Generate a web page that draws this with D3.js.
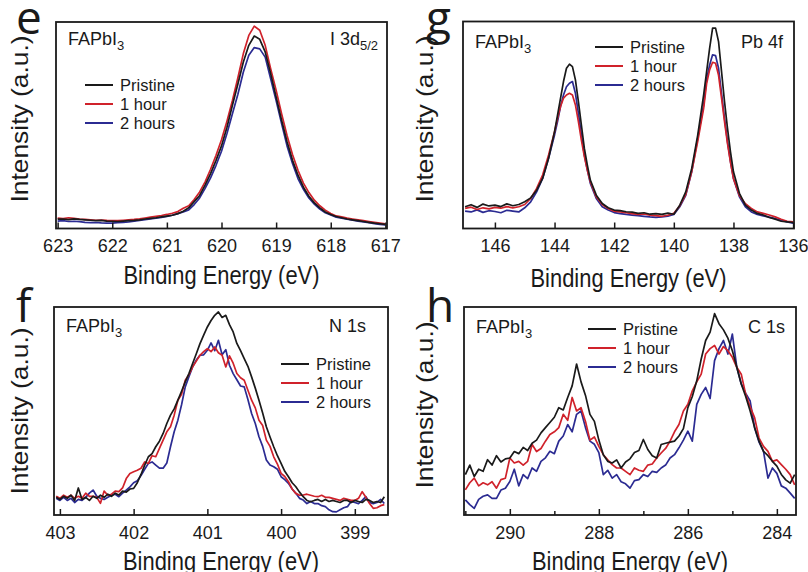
<!DOCTYPE html>
<html>
<head>
<meta charset="utf-8">
<script src="https://cdn.jsdelivr.net/npm/d3@7"></script>
<style>
  body { margin: 0; background: #fff; }
  text { font-family: "Liberation Sans", Arial, sans-serif; fill: #1a1a1a; }
</style>
</head>
<body>
<script>
// series names and colours
var seriesNames = ["Pristine", "1 hour", "2 hours"];
var seriesColors = ["#1a1a1a", "#d0222b", "#2b2b92"];

// panel e : I 3d5/2
var eEnergy = [623.0,622.9,622.8,622.7,622.6,622.5,622.4,622.3,622.2,622.1,622.0,621.9,621.8,621.7,621.6,621.5,621.4,621.3,621.2,621.1,621.0,620.9,620.8,620.7,
  620.6,620.5,620.4,620.3,620.2,620.1,620.0,619.9,619.8,619.7,619.6,619.5,619.4,619.3,619.2,619.1,619.0,
  618.9,618.8,618.7,618.6,618.5,618.4,618.3,618.2,618.1,618.0,617.9,617.8,617.7,617.6,617.5,617.4,617.3,617.2,617.1,617.0];
var ePristine = [4.5,4.6,4.3,4.7,4.4,4.2,4.0,3.8,3.9,3.6,3.5,3.4,3.6,3.8,3.9,4.2,4.6,4.9,5.2,5.6,6.0,6.4,7.2,8.4,
  10,13,16,21,26.6,33,40,49,59.7,70,80.6,88.7,93.2,91.6,85.5,75,63.7,
  52.4,42,33,25.8,20,15.6,12.4,10,8,6.8,5.8,5.2,4.6,4.2,3.8,3.4,3.0,2.6,2.3,2.0];
var eHour1 = [5.0,4.8,5.2,4.9,4.6,4.4,4.2,4.0,4.1,3.9,3.8,3.8,4.0,4.2,4.4,4.7,5.1,5.5,5.9,6.3,6.8,7.4,8.2,9.8,
  11,14,17.7,22.6,28.7,35.5,43,52,62,73,84.7,93.5,98,96,88.7,77.4,67,
  55.6,45,35.8,28.2,22,17.4,13.7,11,8.9,7.3,6.1,5.6,5.0,4.6,4.2,3.8,3.4,3.0,2.6,2.2];
var eHour2 = [3.6,3.8,3.4,3.5,3.3,3.0,2.8,2.9,2.7,2.6,2.6,2.8,3.0,3.2,3.5,3.9,4.3,4.7,5.0,5.4,5.9,6.4,7.2,8.0,
  9,11.6,14.8,19.4,24.5,30.6,37.4,46,55.6,65,75.8,83.9,87.6,87,83,72.5,62,
  50.8,40,31.5,24.2,19,14.8,11.8,9.4,7.6,6.5,5.5,5.0,4.5,4.0,3.6,3.2,2.8,2.4,2.0,1.8];
var eTicks = [623, 622, 621, 620, 619, 618, 617];

// panel g : Pb 4f
var gEnergy = [147.0,146.8,146.6,146.4,146.2,146.0,145.8,145.6,145.4,
  145.2,145.0,144.8,144.6,144.4,144.2,144.0,
  143.9,143.8,143.7,143.6,143.5,143.4,143.3,143.2,143.1,143.0,
  142.9,142.8,142.6,142.4,142.2,142.0,
  141.8,141.6,141.4,141.2,141.0,140.8,140.6,140.4,140.2,140.0,
  139.8,139.6,139.4,139.2,139.0,
  138.9,138.8,138.7,138.6,138.5,138.4,138.3,138.2,138.1,138.0,
  137.8,137.6,137.4,137.2,137.0,136.8,136.6,136.4,136.2,136.0];
var gPristine = [10.5,11.5,10.2,11.8,10.9,11.3,10.6,11.9,11.0,
  11.6,12.9,14.8,18.5,24.2,33.9,46.8,
  54.8,62.9,71.0,77.4,79.4,78.2,71.8,61.3,50.0,38.7,
  30.6,23.4,16.1,12.1,10.0,8.9,
  8.6,8.1,7.9,7.3,7.6,6.9,7.2,6.8,7.4,6.9,
  11.3,17.7,29.0,45.0,64.5,
  75.8,87.0,96.8,96.8,90.3,75.8,61.3,48.4,37.0,27.4,
  17.0,11.3,8.9,7.3,6.5,5.3,4.5,3.5,3.2,2.9];
var gHour1 = [9.7,10.3,9.2,10.0,9.5,10.2,9.8,10.6,10.0,
  10.5,11.6,14.5,19.4,25.8,35.5,46.8,
  53.2,58.9,62.9,64.5,65.3,64.5,59.7,51.6,42.7,34.7,
  28.2,22.6,15.3,11.6,9.7,8.4,
  8.0,7.6,7.2,6.8,7.0,6.5,6.2,5.9,6.4,7.4,
  11.0,16.5,27.5,42.0,58.0,
  70.0,76.6,80.3,79.8,74.0,63.0,51.6,41.0,32.0,24.0,
  16.0,12.0,9.7,8.0,7.3,6.5,5.6,4.5,3.5,3.2];
var gHour2 = [8.4,8.0,9.0,7.8,8.6,8.2,7.6,8.8,8.4,
  8.0,10.0,12.9,17.7,24.2,33.9,45.2,
  51.6,58.9,64.5,68.5,70.2,71.0,65.3,55.6,45.2,35.5,
  28.2,21.8,14.5,10.5,8.9,7.7,
  7.2,6.8,6.5,6.2,5.9,5.6,5.4,5.6,6.0,6.8,
  10.5,16.0,27.4,43.5,59.7,
  72.0,79.0,83.9,83.5,77.4,65.3,53.2,42.0,32.3,24.2,
  15.3,10.5,8.0,6.8,6.1,5.5,4.8,4.0,3.2,2.6];
var gTicks = [146, 144, 142, 140, 138, 136];

// panel f : N 1s
var fEnergy = [403.05,403,402.95,402.9,402.85,402.8,402.75,402.7,402.65,402.6,
  402.55,402.5,402.45,402.4,402.35,402.3,402.25,402.2,402.15,402.1,
  402.05,402,401.95,401.9,401.85,401.8,401.75,401.7,401.65,401.6,
  401.55,401.5,401.45,401.4,401.35,401.3,401.25,401.2,401.15,401.1,
  401.05,401,400.95,400.9,400.85,400.8,400.75,400.7,400.65,400.6,
  400.55,400.5,400.45,400.4,400.35,400.3,400.25,400.2,400.15,400.1,
  400.05,400,399.95,399.9,399.85,399.8,399.75,399.7,399.65,399.6,
  399.55,399.5,399.45,399.4,399.35,399.3,399.25,399.2,399.15,399.1,
  399.05,399,398.95,398.9,398.85,398.8,398.75,398.7,398.65,398.6];
var fPristine = [8.5,7.5,9.0,8.0,9.5,7.0,13.0,7.5,8.5,7.0,
  9.0,8.0,9.5,8.5,10.0,9.0,10.5,9.6,11.5,11.0,
  12.5,12.8,15.5,19.5,24.0,28.0,29.5,32.8,35.5,39.2,
  44.0,48.0,51.0,55.2,59.5,64.0,68.0,72.8,77.5,82.4,
  86.5,90.4,93.5,96.0,97.6,95.0,96.0,91.5,88.0,82.5,
  79.0,75.2,71.5,66.4,61.0,55.2,49.0,42.4,37.5,32.8,
  28.5,24.8,21.0,18.4,15.5,13.6,11.0,8.8,7.0,6.4,
  7.0,7.5,6.5,7.5,6.5,7.0,6.5,6.0,7.0,7.0,
  6.0,7.0,6.5,6.0,7.5,7.0,6.0,6.5,6.0,8.8];
var fHour1 = [9.0,8.0,9.5,8.5,9.5,8.0,9.0,8.0,10.5,9.0,
  9.0,8.5,5.6,11.5,9.5,10.0,11.5,11.2,13.0,17.5,
  20.0,20.8,21.5,22.5,25.5,24.8,28.5,28.0,32.0,36.0,
  40.0,42.4,48.0,55.2,58.0,64.8,67.5,71.2,74.0,76.8,
  78.5,80.0,78.5,80.8,78.0,76.8,71.2,76.5,73.0,68.0,
  66.0,64.8,60.0,55.2,51.5,45.6,43.0,36.0,33.0,28.0,
  24.5,20.0,18.5,16.0,12.5,10.4,9.5,9.6,10.0,9.5,
  9.0,8.8,9.5,8.5,8.5,8.0,7.5,7.0,8.0,7.5,
  7.0,7.0,8.0,11.2,8.5,5.5,3.2,3.5,4.5,5.0];
var fHour2 = [8.0,7.0,8.5,7.0,8.0,6.0,7.5,7.0,8.5,10.5,
  12.0,9.0,8.0,7.5,8.5,9.5,10.0,8.8,10.5,12.0,
  13.5,15.5,16.5,19.0,22.0,24.8,25.5,24.0,22.5,22.5,
  25.0,32.8,40.0,45.6,53.0,61.6,66.5,71.2,74.5,76.8,
  77.0,79.2,82.7,79.0,84.0,77.0,79.5,72.0,68.0,65.0,
  62.0,61.6,55.5,48.8,44.0,37.6,33.0,26.4,24.0,23.2,
  22.0,18.4,17.0,15.2,12.5,10.4,8.0,7.2,5.5,6.5,
  5.5,5.5,4.5,4.0,2.5,1.6,1.5,2.5,3.5,4.0,
  6.5,6.0,5.5,7.0,8.8,6.0,5.5,6.0,7.5,5.5];
var fTicks = [403, 402, 401, 400, 399];

// panel h : C 1s
var hEnergy = [291.0,290.9,290.8,290.7,290.6,290.5,290.4,290.3,290.2,290.1,
  290.0,289.9,289.8,289.7,289.6,289.5,289.4,289.3,289.2,289.1,
  289.0,288.9,288.8,288.7,288.6,288.5,288.4,288.3,288.2,288.1,
  288.0,287.9,287.8,287.7,287.6,287.5,287.4,287.3,287.2,287.1,
  287.0,286.9,286.8,286.7,286.6,286.5,286.4,286.3,286.2,286.1,
  286.0,285.9,285.8,285.7,285.6,285.5,285.4,285.3,285.2,285.1,
  285.0,284.9,284.8,284.7,284.6,284.5,284.4,284.3,284.2,284.1,
  284.0,283.9,283.8,283.7,283.6];
var hPristine = [19.4,24.0,18.5,22.0,21.0,26.6,24.0,28.5,25.5,27.0,
  27.4,30.5,29.5,32.5,31.0,34.5,36.0,39.5,42.0,44.5,
  47.0,51.6,50.5,56.5,62.1,72.6,64.0,57.5,48.4,45.0,
  36.0,29.0,25.8,25.0,26.5,22.6,25.5,27.0,30.0,31.0,
  36.3,31.5,28.5,27.4,33.9,34.5,35.0,35.5,38.0,41.5,
  51.6,57.0,64.5,75.0,83.9,87.9,96.8,92.0,89.0,85.0,
  79.0,71.0,63.0,57.0,50.0,42.0,35.5,30.6,28.5,25.8,
  23.5,19.5,16.9,15.3,19.4];
var hHour1 = [12.1,15.5,17.7,14.0,15.5,14.5,16.0,12.9,17.0,17.7,
  27.4,25.0,25.8,24.0,25.8,33.9,30.5,32.0,35.5,38.7,
  40.0,42.0,48.4,45.5,56.5,50.0,51.6,45.0,36.0,37.5,
  33.0,29.0,26.5,24.2,22.6,22.6,21.0,19.4,22.6,21.5,
  21.0,24.0,24.5,27.4,29.8,32.0,35.5,40.0,43.5,50.0,
  53.2,59.7,64.0,67.7,77.4,80.0,81.5,77.4,81.0,79.0,
  75.8,71.0,67.7,58.0,52.0,46.8,37.0,33.0,30.6,25.8,
  26.5,24.2,22.0,19.4,14.5];
var hHour2 = [7.3,5.0,3.2,7.5,9.0,9.7,8.0,8.0,12.0,12.9,
  16.1,22.0,14.0,19.4,17.5,22.6,21.0,25.8,27.5,30.6,
  29.5,35.5,38.0,43.5,40.0,48.4,50.0,42.0,35.5,34.0,
  30.0,19.4,21.5,17.7,19.4,16.0,15.0,12.9,16.5,17.0,
  19.4,18.5,21.0,20.5,22.6,24.0,27.4,29.0,32.3,36.0,
  40.3,35.5,53.2,58.0,61.3,56.0,74.2,80.0,83.9,77.4,
  87.0,71.0,63.0,58.5,54.8,42.0,35.0,30.6,17.7,22.6,
  20.0,14.0,12.9,10.5,8.0];
var hTicks = [290, 288, 286, 284];
var hMinorTicks = [291, 289, 287, 285];

// layout of the four panels
var panels = [
  { letter: "e", left: 56, right: 387, top: 22, bottom: 228.5, domain: [623.03, 616.97],
    energy: eEnergy, values: [ePristine, eHour1, eHour2], ticks: eTicks, minor: [],
    core: ["I 3d", "5/2"], coreX: 378, labelY: 45,
    legendX: 85, legendY: 85, letterPos: [16, 34], yTitle: [28, 119], xTitleY: 284 },
  { letter: "g", left: 463, right: 794, top: 21.5, bottom: 228.5, domain: [147.07, 135.97],
    energy: gEnergy, values: [gPristine, gHour1, gHour2], ticks: gTicks, minor: [],
    core: ["Pb 4f", ""], coreX: 783, labelY: 48,
    legendX: 595, legendY: 47, letterPos: [426, 34], yTitle: [433, 119], xTitleY: 287 },
  { letter: "f", left: 54, right: 388, top: 307, bottom: 515, domain: [403.08, 398.55],
    energy: fEnergy, values: [fPristine, fHour1, fHour2], ticks: fTicks, minor: [],
    core: ["N 1s", ""], coreX: 366, labelY: 332,
    legendX: 281, legendY: 364, letterPos: [16, 322], yTitle: [28, 411], xTitleY: 570 },
  { letter: "h", left: 464, right: 796, top: 307, bottom: 515, domain: [291.03, 283.57],
    energy: hEnergy, values: [hPristine, hHour1, hHour2], ticks: hTicks, minor: hMinorTicks,
    core: ["C 1s", ""], coreX: 785, labelY: 333,
    legendX: 588, legendY: 329, letterPos: [426, 322], yTitle: [433, 405], xTitleY: 570 }
];

var svg = d3.select("body").append("svg")
  .attr("width", 808)
  .attr("height", 572);

panels.forEach(function(p, pi) {
  var x = d3.scaleLinear().domain(p.domain).range([p.left, p.right]);
  var y = d3.scaleLinear().domain([0, 100]).range([p.bottom, p.top]);
  var g = svg.append("g");

  // clip the spectra to the frame
  var clipId = "clip" + pi;
  g.append("clipPath").attr("id", clipId)
    .append("rect")
    .attr("x", p.left).attr("y", p.top)
    .attr("width", p.right - p.left).attr("height", p.bottom - p.top);

  var line = d3.line()
    .x(function(d) { return x(d[0]); })
    .y(function(d) { return y(d[1]); });

  // draw 2 hours first so pristine stays on top like the original
  [2, 1, 0].forEach(function(s) {
    var pts = p.energy.map(function(e, i) { return [e, p.values[s][i]]; });
    g.append("path")
      .datum(pts)
      .attr("clip-path", "url(#" + clipId + ")")
      .attr("fill", "none")
      .attr("stroke", seriesColors[s])
      .attr("stroke-width", 1.7)
      .attr("stroke-linejoin", "round")
      .attr("d", line);
  });

  // bottom axis with ticks pointing inwards
  var axis = d3.axisBottom(x)
    .tickValues(p.ticks)
    .tickSizeInner(-6)
    .tickSizeOuter(0)
    .tickPadding(11)
    .tickFormat(d3.format("d"));
  var ax = g.append("g")
    .attr("transform", "translate(0," + p.bottom + ")")
    .call(axis);
  ax.select(".domain").remove();
  ax.selectAll("line").attr("stroke", "#1a1a1a").attr("stroke-width", 1.5);
  ax.selectAll("text")
    .style("font-family", "'Liberation Sans', Arial, sans-serif")
    .style("font-size", "18px")
    .attr("fill", "#1a1a1a");

  if (p.minor.length) {
    var minorAxis = d3.axisBottom(x)
      .tickValues(p.minor)
      .tickSizeInner(-4)
      .tickSizeOuter(0)
      .tickFormat("");
    var mx = g.append("g")
      .attr("transform", "translate(0," + p.bottom + ")")
      .call(minorAxis);
    mx.select(".domain").remove();
    mx.selectAll("line").attr("stroke", "#1a1a1a").attr("stroke-width", 1.5);
  }

  // frame
  g.append("rect")
    .attr("x", p.left).attr("y", p.top)
    .attr("width", p.right - p.left).attr("height", p.bottom - p.top)
    .attr("fill", "none")
    .attr("stroke", "#1a1a1a")
    .attr("stroke-width", 1.8);

  // axis titles
  g.append("text")
    .attr("x", (p.left + p.right) / 2)
    .attr("y", p.xTitleY)
    .attr("text-anchor", "middle")
    .attr("textLength", 196)
    .attr("lengthAdjust", "spacingAndGlyphs")
    .style("font-size", "25px")
    .text("Binding Energy (eV)");

  g.append("text")
    .attr("transform", "translate(" + p.yTitle[0] + "," + p.yTitle[1] + ") rotate(-90)")
    .attr("text-anchor", "middle")
    .attr("textLength", 167)
    .attr("lengthAdjust", "spacingAndGlyphs")
    .style("font-size", "24px")
    .text("Intensity (a.u.)");

  // panel letter
  g.append("text")
    .attr("x", p.letterPos[0]).attr("y", p.letterPos[1])
    .style("font-size", "46px")
    .style("font-family", "'Open Sans', 'Liberation Sans', sans-serif")
    .text(p.letter);

  // sample name
  var sample = g.append("text")
    .attr("x", p.left + 12).attr("y", p.labelY)
    .style("font-size", "18px");
  sample.append("tspan").text("FAPbI");
  sample.append("tspan").attr("dy", 5).style("font-size", "13px").text("3");

  // core level
  var core = g.append("text")
    .attr("x", p.coreX).attr("y", p.labelY)
    .attr("text-anchor", "end")
    .style("font-size", "18px");
  core.append("tspan").text(p.core[0]);
  if (p.core[1]) {
    core.append("tspan").attr("dy", 5).style("font-size", "13px").text(p.core[1]);
  }

  // legend
  seriesNames.forEach(function(name, s) {
    var ly = p.legendY + s * 19;
    g.append("line")
      .attr("x1", p.legendX).attr("x2", p.legendX + 28)
      .attr("y1", ly).attr("y2", ly)
      .attr("stroke", seriesColors[s])
      .attr("stroke-width", 2);
    g.append("text")
      .attr("x", p.legendX + 35).attr("y", ly + 6)
      .style("font-size", "16.5px")
      .text(name);
  });
});
</script>
</body>
</html>
